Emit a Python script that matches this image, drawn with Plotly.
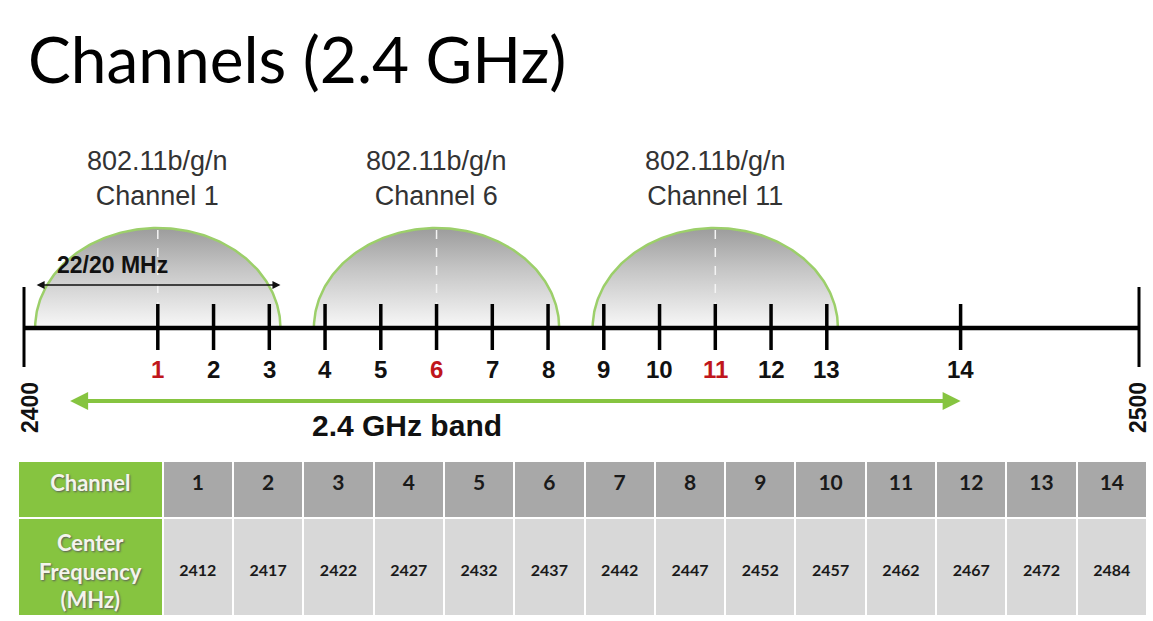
import numpy as np
import plotly.graph_objects as go

# ---------------- data ----------------
channels = list(range(1, 15))
center_freq_mhz = [2412, 2417, 2422, 2427, 2432, 2437, 2442,
                   2447, 2452, 2457, 2462, 2467, 2472, 2484]
non_overlapping = [1, 6, 11]
band_limits_mhz = [2400, 2500]
band_arrow_mhz = [2404, 2484]
channel_width_mhz = 22
standard_label = "802.11b/g/n"
width_label = "22/20 MHz"
band_label = "2.4 GHz band"
title_text = "Channels (2.4 GHz)"
table_row_headers = ["Channel", ["Center", "Frequency", "(MHz)"]]

# ---------------- styles ----------------
W, H = 1153, 621
GREEN = "#86c440"
GREEN_LINE = "#9ccf6a"
RED = "#c0161c"
ARIAL = "Liberation Sans, Arial, sans-serif"
CALIBRI = "Lato, Carlito, Calibri, sans-serif"
SHADOW = "1px 1px 2px #5a5a5a"

px_per_mhz = 11.15
x0 = band_limits_mhz[0] - 24 / px_per_mhz
x1 = x0 + W / px_per_mhz
y_top, y_bot = 328, 328 - H  # axis line at y = 0

fig = go.Figure()

# ---- channel humps (spectral masks) ----
hump_h = 100
half = channel_width_mhz / 2
for ch in non_overlapping:
    c = center_freq_mhz[channels.index(ch)]
    t = np.linspace(0, np.pi, 181)
    hx = list(c + half * np.cos(t)) + [c - half]
    hy = list(hump_h * np.sin(t)) + [0]
    fig.add_trace(go.Scatter(
        x=hx, y=hy, mode="lines", fill="toself",
        fillgradient=dict(type="vertical",
                          colorscale=[[0, "#f8f8f8"], [0.6, "#c4c4c4"], [1, "#9c9c9c"]]),
        line=dict(color=GREEN_LINE, width=2.5),
        hoverinfo="skip", showlegend=False))
    # dashed centre line
    fig.add_trace(go.Scatter(
        x=[c, c], y=[hump_h - 2, 12], mode="lines",
        line=dict(color="#f4f4f4", width=1.5, dash="dash"),
        hoverinfo="skip", showlegend=False))
    fig.add_annotation(x=c, y=hump_h + 50, xref="x", yref="y",
                       text=f"{standard_label}<br>Channel {ch}", showarrow=False,
                       font=dict(family=ARIAL, size=27, color="#333333"),
                       align="center", yanchor="middle")

# ---- main frequency line ----
fig.add_trace(go.Scatter(x=band_limits_mhz, y=[0, 0], mode="lines",
                         line=dict(color="black", width=4.5),
                         hoverinfo="skip", showlegend=False))
# end ticks
ex, ey = [], []
for f in band_limits_mhz:
    ex += [f, f, None]
    ey += [41, -39, None]
fig.add_trace(go.Scatter(x=ex, y=ey, mode="lines",
                         line=dict(color="black", width=3),
                         hoverinfo="skip", showlegend=False))
# channel ticks
tx, ty = [], []
for f in center_freq_mhz:
    tx += [f, f, None]
    ty += [24, -22, None]
fig.add_trace(go.Scatter(x=tx, y=ty, mode="lines",
                         line=dict(color="black", width=3.5),
                         hoverinfo="skip", showlegend=False))

# channel numbers
for ch, f in zip(channels, center_freq_mhz):
    fig.add_annotation(x=f, y=-41, xref="x", yref="y", text=f"<b>{ch}</b>",
                       showarrow=False, yanchor="middle",
                       font=dict(family=ARIAL, size=24,
                                 color=RED if ch in non_overlapping else "#111111"))

# band limit labels (rotated)
for f, xs in zip(band_limits_mhz, [6, -1]):
    fig.add_annotation(x=f, y=-80, xref="x", yref="y", text=f"<b>{f}</b>",
                       showarrow=False, textangle=-90, xshift=xs,
                       font=dict(family=ARIAL, size=23, color="#111111"))

# 22/20 MHz arrow
c1 = center_freq_mhz[0]
fig.add_annotation(x=c1 + half, y=43, ax=c1 - half, ay=43,
                   xref="x", yref="y", axref="x", ayref="y",
                   text="", showarrow=True, arrowside="end+start",
                   arrowhead=2, arrowsize=1, arrowwidth=1.6, arrowcolor="#111111")
fig.add_annotation(x=c1 - half, y=63, xref="x", yref="y", text=f"<b>{width_label}</b>",
                   showarrow=False, xanchor="left", xshift=20,
                   font=dict(family=ARIAL, size=23, color="#111111"))

# 2.4 GHz band arrow
fig.add_annotation(x=band_arrow_mhz[1], y=-73, ax=band_arrow_mhz[0], ay=-73,
                   xref="x", yref="y", axref="x", ayref="y",
                   text="", showarrow=True, arrowside="end+start",
                   arrowhead=2, arrowsize=0.9, arrowwidth=4, arrowcolor=GREEN)
fig.add_annotation(x=407 / W, y=-97, xref="paper", yref="y", text=f"<b>{band_label}</b>",
                   showarrow=False, xanchor="center", yanchor="middle",
                   font=dict(family=ARIAL, size=30, color="#111111"))

# title
fig.add_annotation(x=26 / W, y=1 - 18 / H, xref="paper", yref="paper",
                   text=title_text, showarrow=False, xanchor="left", yanchor="top",
                   font=dict(family=CALIBRI, size=64, color="#000000"))

# ---------------- table ----------------
n = len(channels)
tbl_x = [18 / W, 1147 / W]
tbl_y = [0.0, 1 - 461 / H]
hdr_vals = [f"<b>{table_row_headers[0]}</b>"] + [f"<b>{c}</b>" for c in channels]
# first body cell text is drawn centred line-by-line as an annotation below
cell_vals = [[""]] + \
            [[f"\u00a0<br>\u00a0<br><span style='font-size:16px'><b>{f}</b></span>"]
             for f in center_freq_mhz]
hdr_font = dict(family=CALIBRI, size=[22] + [21] * n, color=["#f4f4ec"] + ["#1a1a1a"] * n)
cell_font = dict(family=CALIBRI, size=[21] + [14] * n, color=["#f4f4ec"] + ["#1a1a1a"] * n)
shadows = [SHADOW] + ["none"] * n
try:
    go.table.header.Font(shadow=shadows)
    hdr_font["shadow"] = shadows
except Exception:
    pass

fig.add_trace(go.Table(
    domain=dict(x=tbl_x, y=tbl_y),
    columnwidth=[144] + [70] * n,
    header=dict(values=hdr_vals, fill_color=[GREEN] + ["#a8a8a8"] * n,
                line=dict(color="white", width=2), height=57, align="center",
                font=hdr_font),
    cells=dict(values=cell_vals, fill_color=[GREEN] + ["#d8d8d8"] * n,
               line=dict(color="white", width=2), height=98, align="center",
               font=cell_font),
))

row_font = dict(family=CALIBRI, size=22, color="#f4f4ec")
try:
    go.layout.annotation.Font(shadow=SHADOW)
    row_font["shadow"] = SHADOW
except Exception:
    pass
fig.add_annotation(x=90 / W, y=1 - 571 / H, xref="paper", yref="paper",
                   xanchor="center", yanchor="middle",
                   text="<br>".join(f"<b>{s}</b>" for s in table_row_headers[1]),
                   showarrow=False, align="center", font=row_font)

fig.update_layout(
    width=W, height=H, margin=dict(l=0, r=0, t=0, b=0),
    paper_bgcolor="white", plot_bgcolor="white",
    xaxis=dict(range=[x0, x1], visible=False, fixedrange=True),
    yaxis=dict(range=[y_bot, y_top], visible=False, fixedrange=True),
    showlegend=False,
)

fig.write_html("out.html", config={"displayModeBar": False},
               post_script="document.body.style.margin='0';document.body.style.overflow='hidden';")
